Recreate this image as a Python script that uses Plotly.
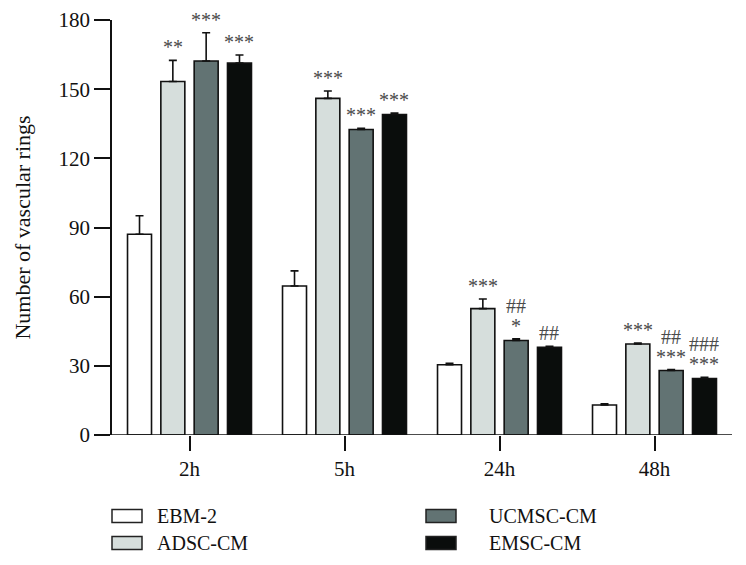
import plotly.graph_objects as go

categories = ["2h", "5h", "24h", "48h"]
series_names = ["EBM-2", "ADSC-CM", "UCMSC-CM", "EMSC-CM"]
ebm2 = [87.1, 64.6, 30.5, 13.0]
adsc = [153.3, 146.0, 54.8, 39.5]
ucmsc = [162.2, 132.5, 41.0, 28.0]
emsc = [161.3, 139.0, 38.0, 24.5]
ebm2_err = [8.0, 6.6, 0.6, 0.5]
adsc_err = [9.2, 3.2, 4.2, 0.4]
ucmsc_err = [12.3, 0.5, 0.7, 0.4]
emsc_err = [3.5, 0.6, 0.5, 0.5]
# significance labels (lower line / upper line) per series
adsc_sig = ["**", "***", "***", "***"]
ucmsc_sig = ["***", "***", "*", "***"]
emsc_sig = ["***", "***", "##", "***"]
ucmsc_sig2 = ["", "", "##", "##"]
emsc_sig2 = ["", "", "", "###"]
y_ticks = [0, 30, 60, 90, 120, 150, 180]

values = [ebm2, adsc, ucmsc, emsc]
errors = [ebm2_err, adsc_err, ucmsc_err, emsc_err]
colors = ["#ffffff", "#d6dedc", "#627373", "#0a0d0c"]
sig_lower = [None, adsc_sig, ucmsc_sig, emsc_sig]
sig_upper = [None, None, ucmsc_sig2, emsc_sig2]

FONT = "Liberation Serif"
fig = go.Figure()
for name, vals, errs, col in zip(series_names, values, errors, colors):
    fig.add_trace(go.Bar(
        name=name, x=categories, y=vals,
        marker=dict(color=col, line=dict(color="#111111", width=1.6)),
        error_y=dict(type="data", symmetric=False, array=errs,
                     arrayminus=[0] * len(errs), color="#111111",
                     thickness=1.6, width=4),
        showlegend=False,
    ))

bar_step = 33.3
annotations = []
for i in range(4):
    xs = (i - 1.5) * bar_step
    for j, cat in enumerate(categories):
        top = values[i][j] + errors[i][j]
        if sig_lower[i] and sig_lower[i][j]:
            annotations.append(dict(x=cat, y=top, xref="x", yref="y", text=sig_lower[i][j],
                                    showarrow=False, xshift=xs, yanchor="bottom", yshift=0,
                                    font=dict(family=FONT, size=20, color="#4a4a4a")))
        if sig_upper[i] and sig_upper[i][j]:
            annotations.append(dict(x=cat, y=top, xref="x", yref="y", text=sig_upper[i][j],
                                    showarrow=False, xshift=xs, yanchor="bottom", yshift=20,
                                    font=dict(family=FONT, size=20, color="#4a4a4a")))

# page has an 8px body margin; compensate so the plot lands where the reference has it
OFF = 8
W, H = 746 - OFF, 565 - OFF
PL, PR, PT, PB = 112, 732, 20, 435   # plot area in window pixels
L, R, T, B = PL - OFF, W - (PR - OFF), PT - OFF, H - (PB - OFF)
pw, ph = PR - PL, PB - PT
def px(x):
    return (x - PL) / pw
def py(y):
    return (PB - y) / ph

shapes = []
legend_pos = [(112, 516), (112, 543), (426, 516), (426, 543)]
text_x = [155, 155, 487, 487]
for name, col, (lx, ly), tx in zip(series_names, colors, legend_pos, text_x):
    shapes.append(dict(type="rect", xref="paper", yref="paper",
                       x0=px(lx), x1=px(lx + 30), y0=py(ly + 6.5), y1=py(ly - 6.5),
                       fillcolor=col, line=dict(color="#222222", width=1.5)))
    annotations.append(dict(x=px(tx), y=py(ly), xref="paper", yref="paper",
                            text=name, showarrow=False, xanchor="left", yanchor="middle",
                            font=dict(family=FONT, size=20, color="#111111")))
# extend x axis line to the left like the reference
shapes.append(dict(type="line", xref="paper", yref="y", x0=px(96), x1=1, y0=0, y1=0,
                   line=dict(color="#111111", width=1.6)))

fig.update_layout(
    width=W, height=H,
    margin=dict(l=L, r=R, t=T, b=B, autoexpand=False),
    plot_bgcolor="white", paper_bgcolor="white",
    barmode="group", bargap=0.14, bargroupgap=0.28,
    font=dict(family=FONT, size=20, color="#111111"),
    annotations=annotations, shapes=shapes,
)
fig.update_xaxes(range=[-0.5, 3.5], showline=False, ticks="outside", ticklen=15,
                 tickwidth=1.6, tickcolor="#111111", showgrid=False, zeroline=False,
                 tickfont=dict(family=FONT, size=21, color="#111111"))
fig.update_yaxes(range=[0, 180], tickvals=y_ticks, showline=True, linecolor="#111111",
                 linewidth=1.6, ticks="outside", ticklen=16, tickwidth=1.6,
                 tickcolor="#111111", showgrid=False, zeroline=False,
                 tickfont=dict(family=FONT, size=21, color="#111111"),
                 title=dict(text="Number of vascular rings", standoff=22,
                            font=dict(family=FONT, size=22, color="#111111")))

fig.write_html("out.html")
